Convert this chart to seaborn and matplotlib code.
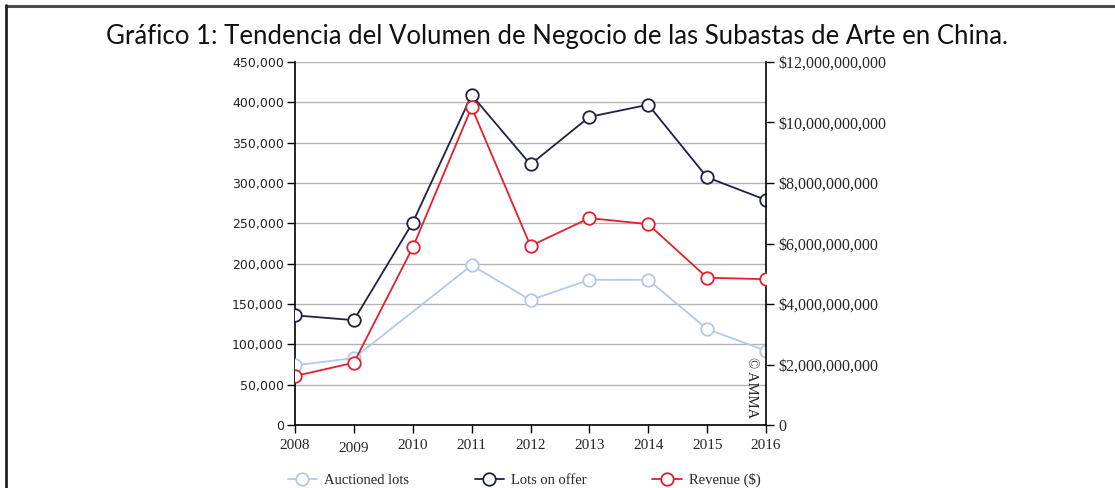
import numpy as np
import pandas as pd
import matplotlib
matplotlib.use("Agg")
import matplotlib.pyplot as plt
import seaborn as sns
from matplotlib.ticker import FuncFormatter
from matplotlib.lines import Line2D

# Data

years = [2008, 2009, 2010, 2011, 2012, 2013, 2014, 2015, 2016]
auctioned_lots = [74000, 83000, None, 198000, 155000, 180000, 180000, 119000, 92000]
lots_on_offer = [136000, 130000, 251000, 409000, 323000, 382000, 397000, 307000, 279000]
revenue = [1.62e9, 2.06e9, 5.87e9, 10.5e9, 5.92e9, 6.84e9, 6.64e9, 4.87e9, 4.82e9]

title = "Gráfico 1: Tendencia del Volumen de Negocio de las Subastas de Arte en China."
labels = ["Auctioned lots", "Lots on offer", "Revenue ($)"]

c_light = "#b4c8e8"
c_navy = "#1f2242"
c_red = "#e3202b"

df = pd.DataFrame({
    "year": years,
    "auctioned": auctioned_lots,
    "offer": lots_on_offer,
    "revenue": revenue,
})

sns.set_style("white")
serif = "Liberation Serif"

fig = plt.figure(figsize=(11.15, 4.88), dpi=100)
ax = fig.add_axes([0.2646, 0.129, 0.4224, 0.744])
ax2 = ax.twinx()

line_kw = dict(marker="o", markersize=9, markerfacecolor="white",
               markeredgewidth=1.3, linewidth=1.3)

sns.lineplot(data=df.dropna(subset=["auctioned"]), x="year", y="auctioned",
             ax=ax, color=c_light, markeredgecolor=c_light, zorder=3, **line_kw)
sns.lineplot(data=df, x="year", y="offer", ax=ax, color=c_navy,
             markeredgecolor=c_navy, zorder=4, **line_kw)
sns.lineplot(data=df, x="year", y="revenue", ax=ax2, color=c_red,
             markeredgecolor=c_red, zorder=4, **line_kw)

# left axis
ax.set_xlim(2008, 2016)
ax.set_ylim(0, 450000)
ax.set_yticks(np.arange(0, 450001, 50000))
ax.yaxis.set_major_formatter(FuncFormatter(lambda v, p: "0" if v == 0 else f"{int(v):,}"))
ax.set_xticks(years)
ax.set_xlabel("")
ax.set_ylabel("")
ax.grid(axis="y", color="#b3b3b3", linewidth=1.0)
ax.set_axisbelow(True)
for s in ["top", "right"]:
    ax.spines[s].set_visible(False)
for s in ["left", "bottom"]:
    ax.spines[s].set_color("black")
    ax.spines[s].set_linewidth(1.2)
ax.tick_params(axis="y", direction="out", length=6, width=1, color="black",
               labelsize=9, pad=2, left=True, labelcolor="#222222")
ax.tick_params(axis="x", direction="out", length=6, width=1, color="black",
               labelsize=11, pad=4, bottom=True)
for t in ax.get_xticklabels():
    t.set_fontfamily(serif)
    if t.get_text() == "2009":
        t.set_y(-0.008)

# right axis
ax2.set_ylim(0, 12e9)
ax2.set_yticks(np.arange(0, 12e9 + 1, 2e9))
ax2.yaxis.set_major_formatter(FuncFormatter(lambda v, p: "0" if v == 0 else f"${int(v):,}"))
ax2.set_ylabel("")
ax2.grid(False)
for s in ["top", "left", "bottom"]:
    ax2.spines[s].set_visible(False)
ax2.spines["right"].set_color("black")
ax2.spines["right"].set_linewidth(1.2)
ax2.tick_params(axis="y", direction="out", length=6, width=1, color="black",
                labelsize=11.5, pad=3, right=True)
for t in ax2.get_yticklabels():
    t.set_fontfamily(serif)

ax.text(0.97, 0.02, "© AMMA", transform=ax.transAxes, rotation=270,
        ha="center", va="bottom", fontsize=10.5, family=serif, color="#222222")

# title
fig.text(0.5, 0.926, title, ha="center", va="center", fontsize=18.5,
         family="Lato", color="#111111")

# legend
handles = [Line2D([], [], color=c, markeredgecolor=c, **line_kw)
           for c in [c_light, c_navy, c_red]]
fig.legend(handles, labels, loc="center", bbox_to_anchor=(0.47, 0.016), ncol=3,
           frameon=False, prop={"family": serif, "size": 10.5}, columnspacing=4.5,
           handlelength=2.0, handletextpad=0.5)

# frame lines
fig.add_artist(Line2D([0.0054, 1.0], [0.987, 0.987], transform=fig.transFigure,
                      color="#4a4a4a", linewidth=2.2))
fig.add_artist(Line2D([0.0054, 0.0054], [0.0, 0.989], transform=fig.transFigure,
                      color="#222222", linewidth=2))

fig.savefig("out.png", dpi=100)
